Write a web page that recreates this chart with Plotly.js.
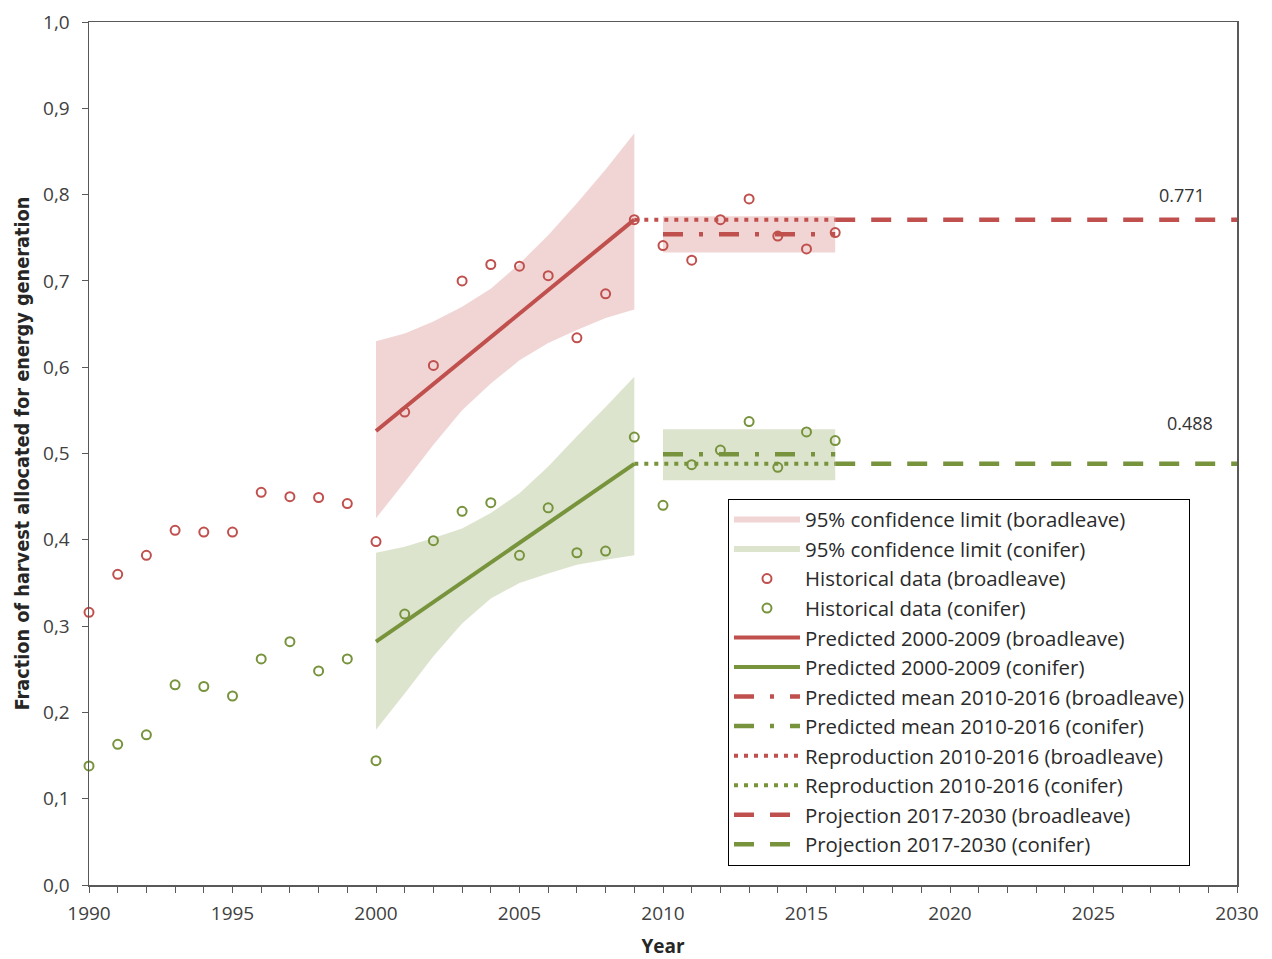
<!DOCTYPE html>
<html>
<head>
<meta charset="utf-8">
<script src="https://cdn.plot.ly/plotly-3.0.1.min.js"></script>
<style>html,body{margin:0;padding:0;background:#fff;}#chart{width:1272px;height:959px;}</style>
</head>
<body>
<div id="chart"></div>
<script>
// ---- data ----
const histYears = [1990,1991,1992,1993,1994,1995,1996,1997,1998,1999,2000,2001,2002,2003,2004,2005,2006,2007,2008,2009,2010,2011,2012,2013,2014,2015,2016];
const histBroadleave = [0.316,0.360,0.382,0.411,0.409,0.409,0.455,0.450,0.449,0.442,0.398,0.548,0.602,0.700,0.719,0.717,0.706,0.634,0.685,0.771,0.741,0.724,0.771,0.795,0.752,0.737,0.756];
const histConifer = [0.138,0.163,0.174,0.232,0.230,0.219,0.262,0.282,0.248,0.262,0.144,0.314,0.399,0.433,0.443,0.382,0.437,0.385,0.387,0.519,0.440,0.487,0.504,0.537,0.484,0.525,0.515];

const bandYears = [2000,2001,2002,2003,2004,2005,2006,2007,2008,2009];
const bandUpperBroadleave = [0.630,0.639,0.653,0.670,0.691,0.720,0.753,0.790,0.829,0.871];
const bandLowerBroadleave = [0.425,0.467,0.510,0.550,0.581,0.608,0.628,0.643,0.657,0.667];
const bandUpperConifer = [0.385,0.392,0.402,0.413,0.431,0.454,0.485,0.520,0.554,0.589];
const bandLowerConifer = [0.180,0.222,0.265,0.303,0.332,0.350,0.361,0.371,0.377,0.382];

const meanBandYears = [2010,2016];
const meanBandBroadleave = [0.733,0.775];   // [lower, upper]
const meanBandConifer = [0.469,0.528];

const predYears = [2000,2009];
const predBroadleave = [0.526,0.771];
const predConifer = [0.282,0.488];

const meanYears = [2010,2016];
const meanBroadleave = [0.754,0.754];
const meanConifer = [0.499,0.499];

const reproYears = [2009,2016];
const reproBroadleave = [0.771,0.771];
const reproConifer = [0.488,0.488];

const projYears = [2016,2030];
const projBroadleave = [0.771,0.771];
const projConifer = [0.488,0.488];

const labelBroadleave = "0.771";
const labelConifer = "0.488";

// ---- styles ----
const RED = "#c0504d", GREEN = "#77933c";
const RED_FILL = "rgba(192,80,77,0.24)", GREEN_FILL = "rgba(119,147,60,0.25)";

function bandPolygon(xs, up, lo, rx, r) {
  const x = xs.concat(xs.slice().reverse(), [null], [rx[0], rx[1], rx[1], rx[0]]);
  const y = up.concat(lo.slice().reverse(), [null], [r[1], r[1], r[0], r[0]]);
  return {x, y};
}
const pb = bandPolygon(bandYears, bandUpperBroadleave, bandLowerBroadleave, meanBandYears, meanBandBroadleave);
const pc = bandPolygon(bandYears, bandUpperConifer, bandLowerConifer, meanBandYears, meanBandConifer);

const traces = [
  {x: pb.x, y: pb.y, mode:'none', fill:'toself', fillcolor:RED_FILL, name:'95% confidence limit (boradleave)', legendrank:1, hoverinfo:'skip'},
  {x: pc.x, y: pc.y, mode:'none', fill:'toself', fillcolor:GREEN_FILL, name:'95% confidence limit (conifer)', legendrank:2, hoverinfo:'skip'},
  {x: predYears, y: predBroadleave, mode:'lines', line:{color:RED, width:4}, name:'Predicted 2000-2009 (broadleave)', legendrank:5},
  {x: predYears, y: predConifer, mode:'lines', line:{color:GREEN, width:4}, name:'Predicted 2000-2009 (conifer)', legendrank:6},
  {x: meanYears, y: meanBroadleave, mode:'lines', line:{color:RED, width:4.5, dash:'20px,16px,4px,16px'}, name:'Predicted mean 2010-2016 (broadleave)', legendrank:7},
  {x: meanYears, y: meanConifer, mode:'lines', line:{color:GREEN, width:4.5, dash:'20px,16px,4px,16px'}, name:'Predicted mean 2010-2016 (conifer)', legendrank:8},
  {x: reproYears, y: reproBroadleave, mode:'lines', line:{color:RED, width:4, dash:'4px,6px'}, name:'Reproduction 2010-2016 (broadleave)', legendrank:9},
  {x: reproYears, y: reproConifer, mode:'lines', line:{color:GREEN, width:4, dash:'4px,6px'}, name:'Reproduction 2010-2016 (conifer)', legendrank:10},
  {x: projYears, y: projBroadleave, mode:'lines', line:{color:RED, width:4.5, dash:'20px,16px'}, name:'Projection 2017-2030 (broadleave)', legendrank:11},
  {x: projYears, y: projConifer, mode:'lines', line:{color:GREEN, width:4.5, dash:'20px,16px'}, name:'Projection 2017-2030 (conifer)', legendrank:12},
  {x: histYears, y: histBroadleave, mode:'markers', marker:{symbol:'circle-open', size:9, color:RED, line:{width:2, color:RED}}, name:'Historical data (broadleave)', legendrank:3, cliponaxis:false},
  {x: histYears, y: histConifer, mode:'markers', marker:{symbol:'circle-open', size:9, color:GREEN, line:{width:2, color:GREEN}}, name:'Historical data (conifer)', legendrank:4, cliponaxis:false}
];
traces.forEach((t,i)=>{ t.type='scatter'; t.legendgroup='g'+i; });

const AX = "#595959";
const TICKFONT = {family:"Open Sans, sans-serif", size:19, color:"#404040"};
const layout = {
  width:1272, height:959,
  margin:{l:89, r:35, t:22, b:74},
  paper_bgcolor:'#fff', plot_bgcolor:'#fff',
  separators:',.',
  showlegend:true,
  legend:{
    x:0.5566, y:0.4476, xanchor:'left', yanchor:'top',
    bordercolor:'#000', borderwidth:1, bgcolor:'#fff',
    font:{family:"Open Sans, sans-serif", size:20.4, color:"#2a2a2a"},
    tracegroupgap:0, traceorder:'grouped', itemwidth:66
  },
  xaxis:{
    range:[1990,2030], tickmode:'linear', tick0:1990, dtick:5,
    ticks:'outside', ticklen:6, tickcolor:AX, tickwidth:1,
    minor:{dtick:1, ticks:'outside', ticklen:6, tickcolor:AX, tickwidth:1, showgrid:false},
    showline:true, linecolor:AX, linewidth:1.5, mirror:true,
    showgrid:false, zeroline:false,
    tickfont:TICKFONT, ticklabelstandoff:5,
    title:{text:'<b>Year</b>', font:{family:"Open Sans, sans-serif", size:19, color:"#262626"}, standoff:14}
  },
  yaxis:{
    range:[0,1], tickmode:'linear', tick0:0, dtick:0.1, tickformat:'.1f',
    ticks:'outside', ticklen:6, tickcolor:AX, tickwidth:1,
    showline:true, linecolor:AX, linewidth:1.5, mirror:true,
    showgrid:false, zeroline:false,
    tickfont:TICKFONT, ticklabelstandoff:8,
    title:{text:'<b>Fraction of harvest allocated for energy generation</b>', font:{family:"Liberation Sans Narrow, DejaVu Sans Condensed, sans-serif", size:19.7, color:"#262626"}, standoff:8}
  },
  annotations:[
    {x:2028.1, y:0.7995, xref:'x', yref:'y', text:labelBroadleave, showarrow:false, font:{family:"Open Sans, sans-serif", size:18, color:"#333"}},
    {x:2028.35, y:0.5353, xref:'x', yref:'y', text:labelConifer, showarrow:false, font:{family:"Open Sans, sans-serif", size:18, color:"#333"}}
  ]
};
Plotly.newPlot('chart', traces, layout, {displayModeBar:false, staticPlot:true});
</script>
</body>
</html>
